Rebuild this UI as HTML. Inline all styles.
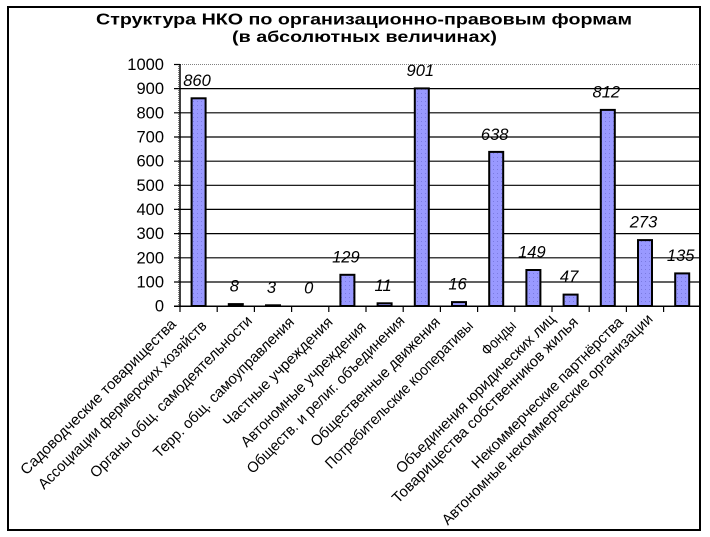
<!DOCTYPE html>
<html><head><meta charset="utf-8">
<style>
html,body{margin:0;padding:0;background:#fff;}
svg{display:block;}
text{font-family:"Liberation Sans","DejaVu Sans",sans-serif;fill:#000;}
</style></head>
<body>
<svg width="710" height="537" viewBox="0 0 710 537" xmlns="http://www.w3.org/2000/svg">
<defs>
<pattern id="dots" width="4" height="4" patternUnits="userSpaceOnUse">
<rect width="4" height="4" fill="#9999ff"/>
<rect x="1" y="1" width="1" height="1" fill="#7a7ae0"/>
</pattern>
</defs>
<rect x="0" y="0" width="710" height="537" fill="#fff"/>
<rect x="8" y="7" width="692" height="523" fill="none" stroke="#000" stroke-width="2"/>

<!-- title -->
<text x="96" y="24.5" font-size="16" font-weight="bold" textLength="536" lengthAdjust="spacingAndGlyphs">Структура НКО по организационно-правовым формам</text>
<text x="232" y="42" font-size="16" font-weight="bold" textLength="265" lengthAdjust="spacingAndGlyphs">(в абсолютных величинах)</text>

<!-- plot border top / left dotted -->
<line x1="180" y1="64.5" x2="699" y2="64.5" stroke="#808080" stroke-width="1" stroke-dasharray="1,1"/>
<line x1="178.5" y1="64" x2="178.5" y2="306" stroke="#808080" stroke-width="1" stroke-dasharray="1,1"/>

<!-- gridlines -->
<g stroke="#000" stroke-width="1.2">
<line x1="174" y1="282" x2="699" y2="282"/>
<line x1="174" y1="257.8" x2="699" y2="257.8"/>
<line x1="174" y1="233.6" x2="699" y2="233.6"/>
<line x1="174" y1="209.4" x2="699" y2="209.4"/>
<line x1="174" y1="185.3" x2="699" y2="185.3"/>
<line x1="174" y1="161.2" x2="699" y2="161.2"/>
<line x1="174" y1="137" x2="699" y2="137"/>
<line x1="174" y1="112.8" x2="699" y2="112.8"/>
<line x1="174" y1="88.6" x2="699" y2="88.6"/>
<line x1="174" y1="64.5" x2="180" y2="64.5"/>
</g>

<!-- y labels -->
<g font-size="16.5" text-anchor="end">
<text x="164" y="311.5">0</text>
<text x="164" y="287.5">100</text>
<text x="164" y="263.3">200</text>
<text x="164" y="239.2">300</text>
<text x="164" y="215">400</text>
<text x="164" y="190.8">500</text>
<text x="164" y="166.6">600</text>
<text x="164" y="142.5">700</text>
<text x="164" y="118.3">800</text>
<text x="164" y="94.1">900</text>
<text x="164" y="70">1000</text>
</g>

<!-- bars -->
<g fill="url(#dots)" stroke="#000" stroke-width="2">
<rect x="191.6" y="98.3" width="14" height="207.7"/>
<rect x="228.8" y="304.1" width="14" height="1.9"/>
<rect x="266" y="305.3" width="14" height="0.7"/>
<rect x="340.4" y="274.8" width="14" height="31.2"/>
<rect x="377.6" y="303.3" width="14" height="2.7"/>
<rect x="414.8" y="88.4" width="14" height="217.6"/>
<rect x="452" y="302.1" width="14" height="3.9"/>
<rect x="489.2" y="151.9" width="14" height="154.1"/>
<rect x="526.4" y="270" width="14" height="36"/>
<rect x="563.6" y="294.6" width="14" height="11.4"/>
<rect x="600.8" y="109.9" width="14" height="196.1"/>
<rect x="638" y="240.1" width="14" height="65.9"/>
<rect x="675.2" y="273.4" width="14" height="32.6"/>
</g>

<!-- axes -->
<line x1="180" y1="64" x2="180" y2="306.5" stroke="#000" stroke-width="1.5"/>
<line x1="174" y1="306.3" x2="700" y2="306.3" stroke="#000" stroke-width="1.5"/>
<g stroke="#000" stroke-width="1.2">
<line x1="180" y1="306" x2="180" y2="312"/>
<line x1="217.2" y1="306" x2="217.2" y2="312"/>
<line x1="254.4" y1="306" x2="254.4" y2="312"/>
<line x1="291.6" y1="306" x2="291.6" y2="312"/>
<line x1="328.8" y1="306" x2="328.8" y2="312"/>
<line x1="366" y1="306" x2="366" y2="312"/>
<line x1="403.2" y1="306" x2="403.2" y2="312"/>
<line x1="440.4" y1="306" x2="440.4" y2="312"/>
<line x1="477.6" y1="306" x2="477.6" y2="312"/>
<line x1="514.8" y1="306" x2="514.8" y2="312"/>
<line x1="552" y1="306" x2="552" y2="312"/>
<line x1="589.2" y1="306" x2="589.2" y2="312"/>
<line x1="626.4" y1="306" x2="626.4" y2="312"/>
<line x1="663.6" y1="306" x2="663.6" y2="312"/>
</g>

<!-- data labels -->
<g font-size="16.5" font-style="italic" text-anchor="middle">
<text x="197" y="85.8">860</text>
<text x="234.3" y="291.6">8</text>
<text x="271.5" y="292.8">3</text>
<text x="308.7" y="293.5">0</text>
<text x="345.9" y="262.3">129</text>
<text x="383.1" y="290.8">11</text>
<text x="420.3" y="75.9">901</text>
<text x="457.5" y="289.6">16</text>
<text x="494.7" y="139.9">638</text>
<text x="531.9" y="257.5">149</text>
<text x="569.1" y="282.1">47</text>
<text x="606.3" y="97.4">812</text>
<text x="643.5" y="227.6">273</text>
<text x="680.7" y="260.9">135</text>
</g>

<!-- category labels -->
<g font-size="15" text-anchor="end">
<text transform="translate(177,325) rotate(-45)" textLength="213" lengthAdjust="spacingAndGlyphs">Садоводческие   товарищества</text>
<text transform="translate(207.5,326.7) rotate(-45)" textLength="231" lengthAdjust="spacingAndGlyphs">Ассоциации фермерских хозяйств</text>
<text transform="translate(253,321.7) rotate(-45)" textLength="222" lengthAdjust="spacingAndGlyphs">Органы общ. самодеятельности</text>
<text transform="translate(295,323) rotate(-45)" textLength="192" lengthAdjust="spacingAndGlyphs">Терр. общ. самоуправления</text>
<text transform="translate(333.6,323) rotate(-45)" textLength="148" lengthAdjust="spacingAndGlyphs">Частные учреждения</text>
<text transform="translate(367,327.7) rotate(-45)" textLength="170" lengthAdjust="spacingAndGlyphs">Автономные учреждения</text>
<text transform="translate(405.5,321.7) rotate(-45)" textLength="216" lengthAdjust="spacingAndGlyphs">Обществ. и религ. объединения</text>
<text transform="translate(441,323) rotate(-45)" textLength="176" lengthAdjust="spacingAndGlyphs">Общественные движения</text>
<text transform="translate(474,326.7) rotate(-45)" textLength="202" lengthAdjust="spacingAndGlyphs">Потребительские кооперативы</text>
<text transform="translate(517,326.7) rotate(-45)" textLength="42" lengthAdjust="spacingAndGlyphs">Фонды</text>
<text transform="translate(556,320) rotate(-45)" textLength="218" lengthAdjust="spacingAndGlyphs">Объединения юридических лиц</text>
<text transform="translate(579,323) rotate(-45)" textLength="256" lengthAdjust="spacingAndGlyphs">Товарищества собственников  жилья</text>
<text transform="translate(624,323) rotate(-45)" textLength="207" lengthAdjust="spacingAndGlyphs">Некоммерческие партнёрства</text>
<text transform="translate(653.6,320) rotate(-45)" textLength="291" lengthAdjust="spacingAndGlyphs">Автономные некоммерческие организации</text>
</g>
</svg>
</body></html>
